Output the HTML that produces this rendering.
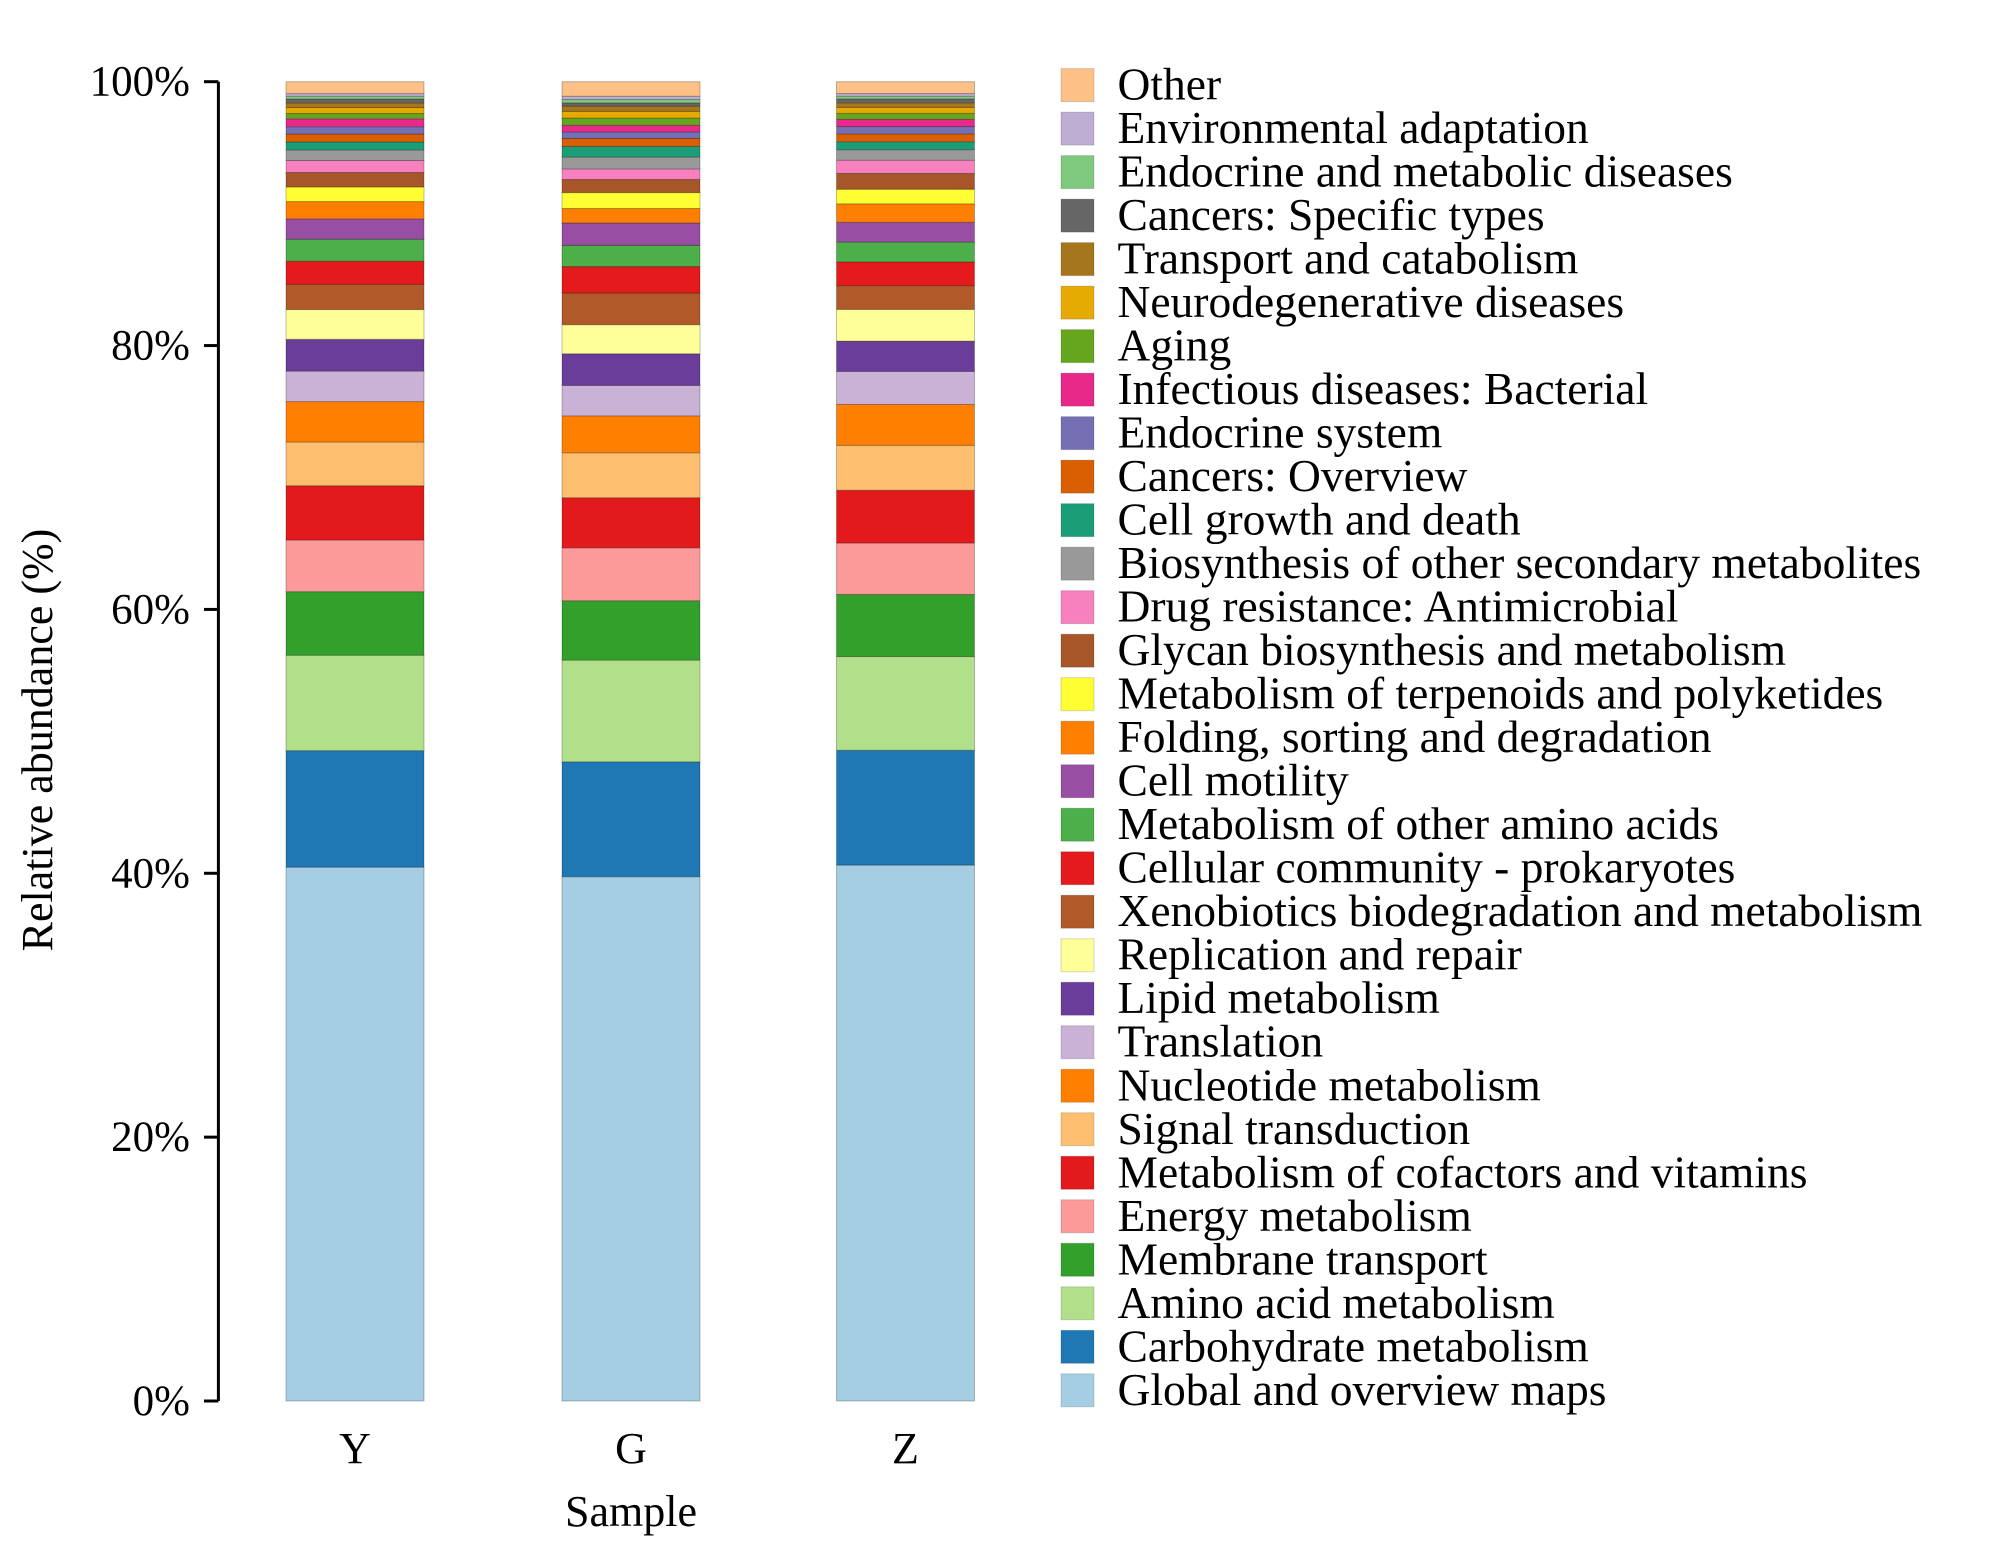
<!DOCTYPE html>
<html><head><meta charset="utf-8"><style>
html,body{margin:0;padding:0;background:#fff;}
svg{display:block;font-family:"Liberation Serif",serif;}
</style></head><body>
<svg id="chart" width="2000" height="1551"></svg>
<script>
const categories = ["Y","G","Z"];
const seriesNames = ["Global and overview maps","Carbohydrate metabolism","Amino acid metabolism","Membrane transport","Energy metabolism","Metabolism of cofactors and vitamins","Signal transduction","Nucleotide metabolism","Translation","Lipid metabolism","Replication and repair","Xenobiotics biodegradation and metabolism","Cellular community - prokaryotes","Metabolism of other amino acids","Cell motility","Folding, sorting and degradation","Metabolism of terpenoids and polyketides","Glycan biosynthesis and metabolism","Drug resistance: Antimicrobial","Biosynthesis of other secondary metabolites","Cell growth and death","Cancers: Overview","Endocrine system","Infectious diseases: Bacterial","Aging","Neurodegenerative diseases","Transport and catabolism","Cancers: Specific types","Endocrine and metabolic diseases","Environmental adaptation","Other"];
const seriesColors = ["#a6cee3","#1f78b4","#b2df8a","#33a02c","#fb9a99","#e31a1c","#fdbf6f","#ff7f00","#cab2d6","#6a3d9a","#ffff99","#b15928","#e41a1c","#4daf4a","#984ea3","#ff7f00","#ffff33","#a65628","#f781bf","#999999","#1b9e77","#d95f02","#7570b3","#e7298a","#66a61e","#e6ab02","#a6761d","#666666","#7fc97f","#beaed4","#fdc086"];
const valuesY = [40.3,8.8,7.2,4.8,3.9,4.1,3.3,3.05,2.3,2.4,2.25,1.9,1.75,1.65,1.55,1.3,1.1,1.1,0.9,0.8,0.6,0.6,0.55,0.6,0.4,0.45,0.35,0.3,0.2,0.2,0.9];
const valuesG = [39.7,8.7,7.7,4.5,4.0,3.8,3.4,2.8,2.3,2.4,2.2,2.4,2.0,1.6,1.7,1.1,1.2,1.0,0.8,0.9,0.8,0.6,0.5,0.5,0.55,0.5,0.4,0.25,0.25,0.25,1.1];
const valuesZ = [40.6,8.7,7.1,4.7,3.9,4.0,3.4,3.1,2.5,2.3,2.4,1.8,1.8,1.5,1.5,1.4,1.1,1.2,1.0,0.8,0.6,0.6,0.55,0.55,0.45,0.45,0.35,0.3,0.2,0.2,0.9];
const allValues = [valuesY, valuesG, valuesZ];
const tickLabels = ["0%","20%","40%","60%","80%","100%"];
const tickValues = [0,20,40,60,80,100];

const NS = "http://www.w3.org/2000/svg";
const svg = document.getElementById("chart");
const plotTop = 81.7, plotBottom = 1401;
function yScale(p){ return plotBottom - (plotBottom - plotTop) * p / 100; }
const barLefts = [286, 562, 836.5], barW = 138;
function xScale(i){ return barLefts[i]; }
function mk(tag, attrs, parent){ const e = document.createElementNS(NS, tag); for (const k in attrs) e.setAttribute(k, attrs[k]); (parent||svg).appendChild(e); return e; }

const axis = mk("g", {});


mk("line", {x1:218.4, x2:218.4, y1:plotTop, y2:plotBottom, stroke:"#000", "stroke-width":3}, axis);
tickValues.forEach((v, i) => {
  const y = yScale(v);
  const t = mk("line", {x1:204, x2:218.4, y1:y, y2:y, stroke:"#000", "stroke-width":3}, axis);
  
  
  const lab = mk("text", {x:190, y:y+14, "text-anchor":"end", "font-size":43}, axis);
  lab.textContent = tickLabels[i];
  
  
});
const yt = mk("text", {x:0, y:0, "text-anchor":"middle", "font-size":44, transform:"translate(52,740) rotate(-90)"});
yt.textContent = "Relative abundance (%)";


const xt = mk("text", {x:631, y:1526, "text-anchor":"middle", "font-size":44});
xt.textContent = "Sample";



allValues.forEach((vals, i) => {
  const total = vals.reduce((a,b)=>a+b,0);
  const g = mk("g", {});
  
  
  let cum = 0;
  vals.forEach((v, j) => {
    const p0 = cum / total * 100, p1 = (cum + v) / total * 100;
    cum += v;
    const r = mk("rect", {x:xScale(i), y:yScale(p1), width:barW, height:yScale(p0)-yScale(p1), fill:seriesColors[j], stroke:"rgba(0,0,0,0.25)", "stroke-width":1}, g);
    
    
  });
  const lab = mk("text", {x:xScale(i)+barW/2, y:1463, "text-anchor":"middle", "font-size":44});
  lab.textContent = categories[i];
  
  
});

const leg = mk("g", {});


const n = seriesNames.length;
const top0 = 85.6, step = (1390.8 - 85.6) / (n - 1);
for (let k = 0; k < n; k++) {
  const j = n - 1 - k;
  const cy = top0 + k * step;
  const e = mk("g", {}, leg);
  
  
  mk("rect", {x:1061, y:cy-17, width:33, height:33, fill:seriesColors[j], stroke:"rgba(0,0,0,0.15)", "stroke-width":1}, e);
  const t = mk("text", {x:1117.5, y:cy+14, "font-size":45.5}, e);
  t.textContent = seriesNames[j];
}
</script>
</body></html>
